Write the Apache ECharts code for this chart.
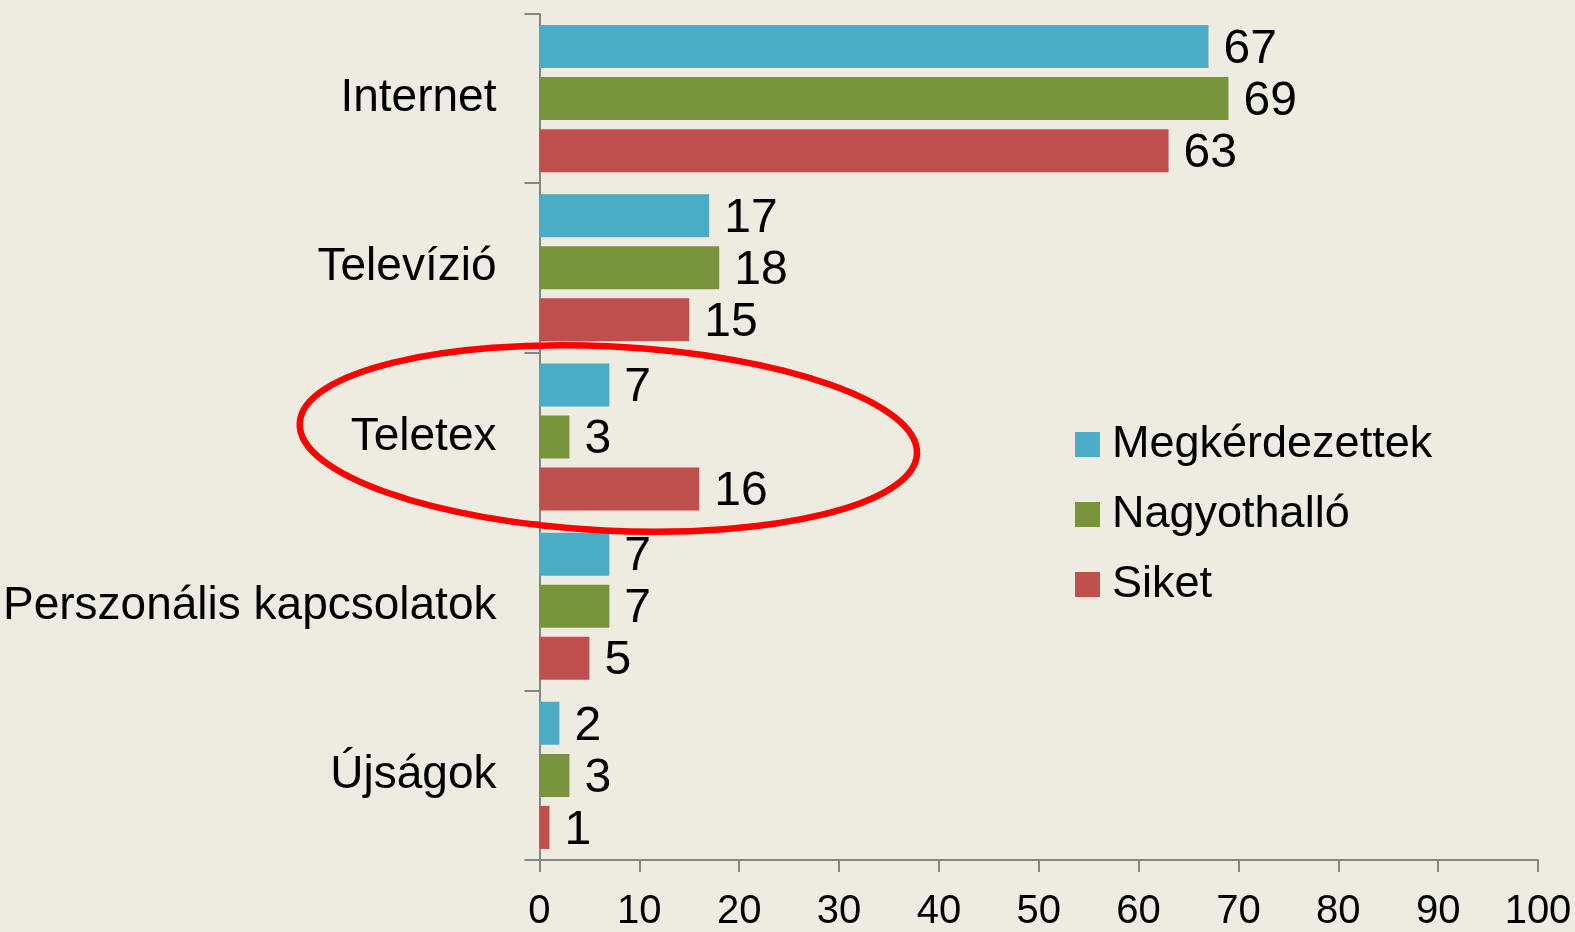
<!DOCTYPE html>
<html>
<head>
<meta charset="utf-8">
<script src="https://cdn.jsdelivr.net/npm/echarts@6/dist/echarts.min.js"></script>
<style>
  html, body { margin: 0; padding: 0; background: #EEEBE1; }
  #chart { width: 1575px; height: 932px; }
</style>
</head>
<body>
<div id="chart"></div>
<script>
// Hungarian survey: information sources, percent by group
const categories = ['Internet', 'Televízió', 'Teletex', 'Perszonális kapcsolatok', 'Újságok'];
const seriesNames = ['Megkérdezettek', 'Nagyothalló', 'Siket'];
const megkerdezettek = [67, 17, 7, 7, 2];
const nagyothallo = [69, 18, 3, 7, 3];
const siket = [63, 15, 16, 5, 1];
const colors = ['#4BACC6', '#77933C', '#C0504D'];
const xTicks = { min: 0, max: 100, interval: 10 };

const FONT = '"Liberation Sans", Arial, sans-serif';
const AXIS_GREY = '#868686';

const values = [megkerdezettek, nagyothallo, siket];

const chart = echarts.init(document.getElementById('chart'));

function barSeries(i) {
  return {
    name: seriesNames[i],
    type: 'bar',
    data: values[i],
    barWidth: 43,
    barGap: '21%',
    itemStyle: { color: colors[i] },
    label: {
      show: true,
      position: 'right',
      distance: 15,
      offset: [0, 3],
      fontFamily: FONT,
      fontSize: 48,
      color: '#000'
    }
  };
}

chart.setOption({
  animation: false,
  backgroundColor: '#EEEBE1',
  color: colors,
  grid: { left: 538, right: 37, top: 14, bottom: 71, containLabel: false },
  legend: {
    orient: 'vertical',
    left: 1075,
    top: 422,
    data: seriesNames,
    icon: 'rect',
    itemWidth: 25,
    itemHeight: 25,
    itemGap: 25,
    itemStyle: { borderWidth: 0 },
    textStyle: { fontFamily: FONT, fontSize: 45, lineHeight: 45, color: '#000', padding: [0, 0, 0, 7] },
    padding: 0
  },
  xAxis: {
    type: 'value',
    min: xTicks.min,
    max: xTicks.max,
    interval: xTicks.interval,
    axisLine: { show: true, lineStyle: { color: AXIS_GREY, width: 2 } },
    axisTick: { show: true, length: 12, lineStyle: { color: AXIS_GREY, width: 2 } },
    splitLine: { show: false },
    axisLabel: { fontFamily: FONT, fontSize: 40, color: '#000', margin: 32 }
  },
  yAxis: {
    type: 'category',
    data: categories,
    inverse: true,
    axisLine: { show: true, lineStyle: { color: AXIS_GREY, width: 2 } },
    axisTick: { show: true, length: 15, lineStyle: { color: AXIS_GREY, width: 2 } },
    axisLabel: { fontFamily: FONT, fontSize: 46, color: '#000', margin: 43 }
  },
  series: [barSeries(0), barSeries(1), barSeries(2)]
});

// red ring drawn around the Teletex group
const c = chart.convertToPixel({ gridIndex: 0 }, [7, 'Teletex']);
chart.setOption({
  graphic: [{
    type: 'ellipse',
    x: c[0] - 1,
    y: c[1] + 1.5,
    rotation: -0.05,
    shape: { cx: 0, cy: 0, rx: 309, ry: 92 },
    style: { fill: null, stroke: '#FF0000', lineWidth: 6.5 },
    z: 100
  }]
});
</script>
</body>
</html>
